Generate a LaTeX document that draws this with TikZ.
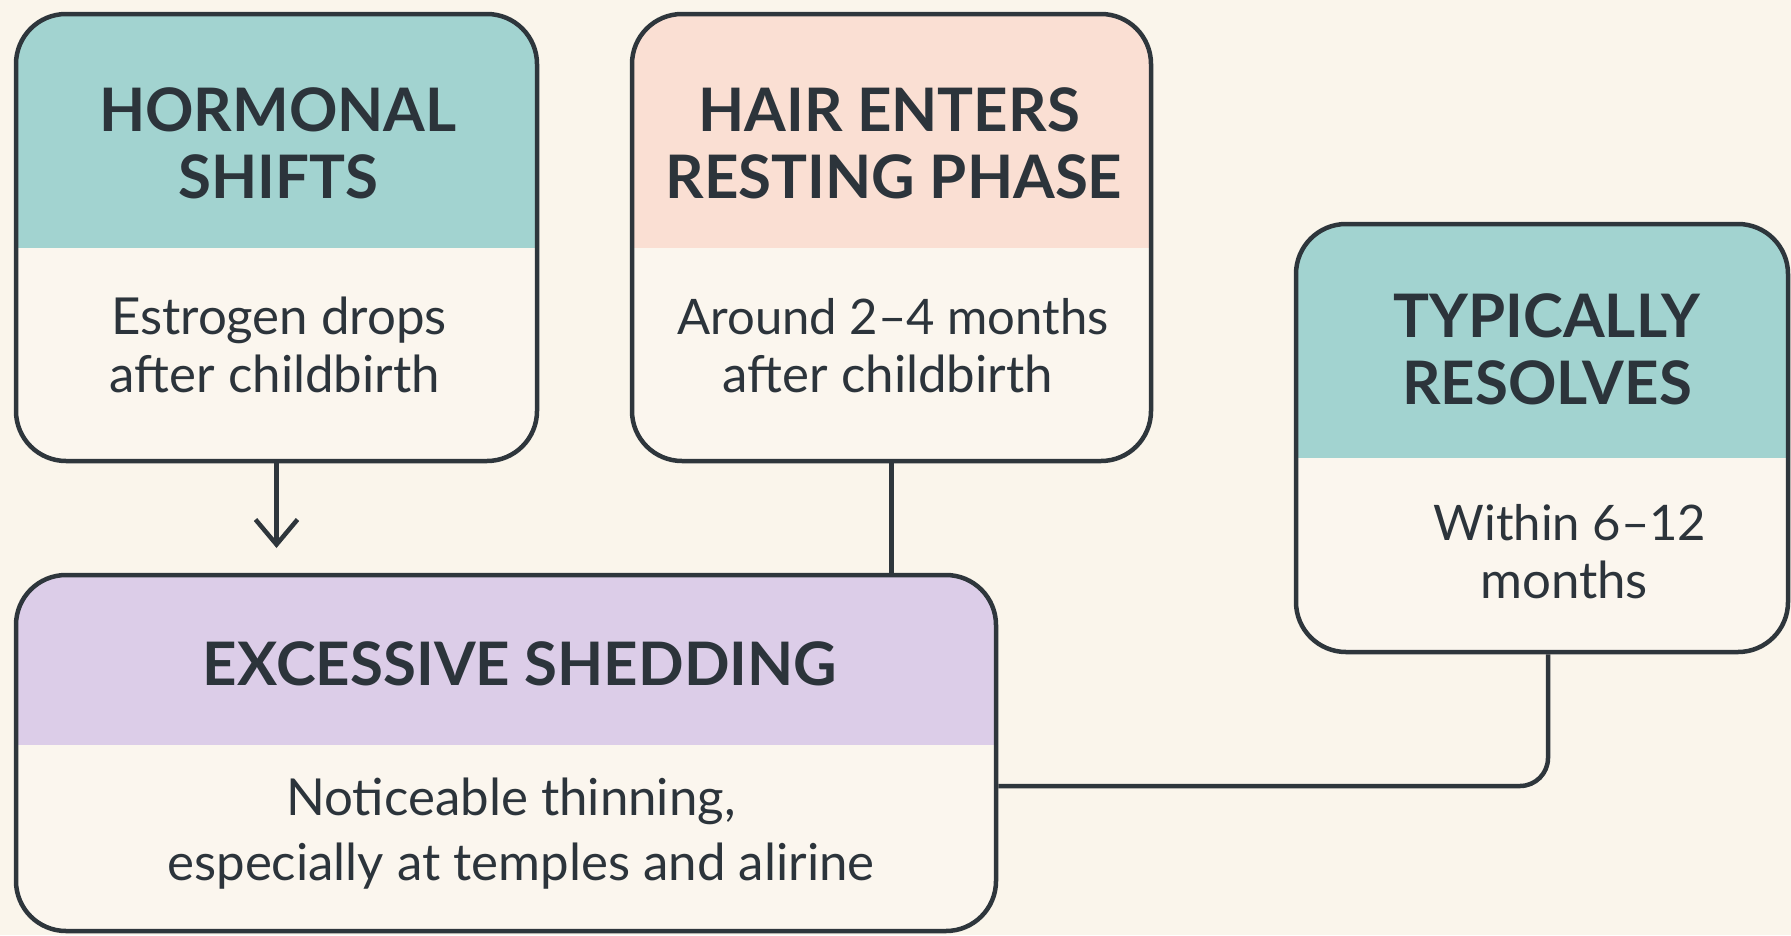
\documentclass[tikz,border=0pt]{standalone}
\usepackage{fontspec}
\setmainfont{Lato}
\usetikzlibrary{arrows.meta}
\definecolor{bg}{HTML}{FAF5EB}
\definecolor{bodyfill}{HTML}{FBF6EE}
\definecolor{teal}{HTML}{A2D3D0}
\definecolor{peach}{HTML}{FADFD3}
\definecolor{lavender}{HTML}{DCCDE8}
\definecolor{edge}{HTML}{2E363C}
\definecolor{ink}{HTML}{2C343B}
\begin{document}
\begin{tikzpicture}[x=1pt,y=-1pt,
  card/.style n args={4}{draw=edge, line width=4.5pt, rounded corners=50pt,
    fill=bodyfill, minimum width=#1, minimum height=#2, inner sep=0pt,
    path picture={\fill[#3, sharp corners] (path picture bounding box.north west) rectangle
      ([yshift=-#4]path picture bounding box.north east);}},
  ttl/.style={anchor=base, font=\fontsize{60}{66}\selectfont\bfseries, text=ink, inner sep=0pt},
  bdy/.style={anchor=base, font=\fontsize{51}{60}\selectfont, text=ink, inner sep=0pt},
  bdyn/.style={bdy, font=\fontsize{49}{60}\selectfont},
  conn/.style={draw=edge, line width=4.5pt}]
\useasboundingbox (0,0) rectangle (1791,935);
\fill[bg] (0,0) rectangle (1791,935);
\node[card={521pt}{447pt}{teal}{234pt}] (b1) at (276.5,237.5) {};
\node[card={519pt}{447pt}{peach}{234pt}] (b2) at (891.5,237.5) {};
\node[card={492pt}{428pt}{teal}{234pt}] (b3) at (1542,438) {};
\node[card={980pt}{356pt}{lavender}{170pt}] (b4) at (506,753) {};
\coordinate (ah) at (276,548);
\coordinate (jn) at (1548,786);
\draw[conn, -{Straight Barb[length=25pt,width=42pt]}] (b1.south) -- (b1.south |- ah);
\draw[conn] (b2.south) -- (b2.south |- b4.north);
\draw[conn, rounded corners=28pt] (b3.south -| jn) -- (jn) -- (b4.east |- jn);
\node[ttl] (t1a) at (278,131) {HORMONAL};
\node[ttl] (t1b) at (278,198) {SHIFTS};
\node[bdy] (d1a) at (279,334) {Estrogen drops};
\node[bdy] (d1b) at (275,392) {after childbirth};
\node[ttl] (t2a) at (889,131) {HAIR ENTERS};
\node[ttl] (t2b) at (894,198) {RESTING PHASE};
\node[bdyn] (d2a) at (893,334) {Around 2–4 months};
\node[bdy] (d2b) at (888,392) {after childbirth};
\node[ttl] (t3a) at (1547,337) {TYPICALLY};
\node[ttl] (t3b) at (1547,404) {RESOLVES};
\node[bdyn] (d3a) at (1570,540) {Within 6–12};
\node[bdy] (d3b) at (1564,598) {months};
\node[ttl] (t4a) at (520,685) {EXCESSIVE SHEDDING};
\node[bdy] (d4a) at (511,815) {Noticeable thinning,};
\node[bdy] (d4b) at (521,880) {especially at temples and alirine};
\end{tikzpicture}
\end{document}
